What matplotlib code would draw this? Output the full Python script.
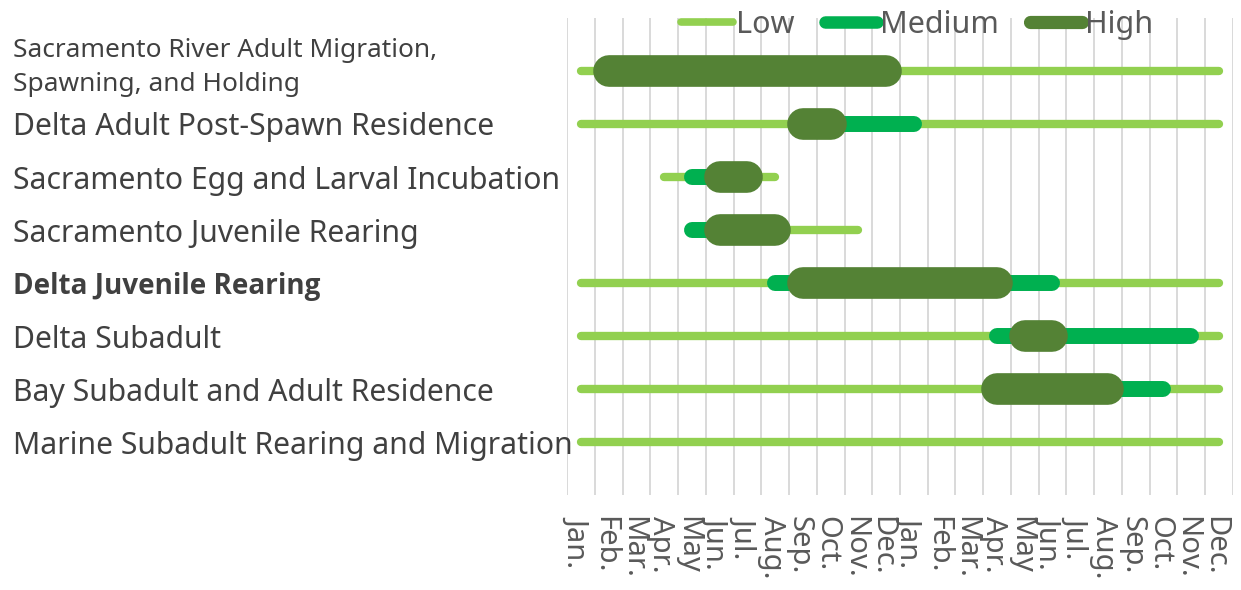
import matplotlib
matplotlib.use("Agg")
import matplotlib.pyplot as plt
import matplotlib.transforms as mtransforms
from matplotlib.lines import Line2D

plt.rcParams['font.family'] = ['Noto Sans', 'DejaVu Sans']

# life stages, top to bottom
stages = [
    "Sacramento River Adult Migration,\nSpawning, and Holding",
    "Delta Adult Post-Spawn Residence",
    "Sacramento Egg and Larval Incubation",
    "Sacramento Juvenile Rearing",
    "Delta Juvenile Rearing",
    "Delta Subadult",
    "Bay Subadult and Adult Residence",
    "Marine Subadult Rearing and Migration",
]
months = ["Jan.", "Feb.", "Mar.", "Apr.", "May", "Jun.", "Jul.", "Aug.",
          "Sep.", "Oct.", "Nov.", "Dec."] * 2

# month index (0 = Jan. year 1, 23 = Dec. year 2); None = no period
low_start = [0, 0, 3, 4, 0, 0, 0, 0]
low_end = [23, 23, 7, 10, 23, 23, 23, 23]
med_start = [None, 8, 4, 4, 7, 15, 15, None]
med_end = [None, 12, 5, 5, 17, 22, 21, None]
high_start = [1, 8, 5, 5, 8, 16, 15, None]
high_end = [11, 9, 6, 7, 15, 17, 19, None]

c_low = "#92D050"
c_med = "#00B050"
c_high = "#548235"

fig = plt.figure(figsize=(12.41, 5.90), dpi=100)
ax = fig.add_axes([0.4571, 0.161, 0.5362, 0.8085])

n = len(stages)
ypos = [n - i for i in range(n)]

for i, y in enumerate(ypos):
    ax.plot([low_start[i], low_end[i]], [y, y], color=c_low, lw=6,
            solid_capstyle='round', zorder=3)
    if med_start[i] is not None:
        ax.plot([med_start[i], med_end[i]], [y, y], color=c_med, lw=11.5,
                solid_capstyle='round', zorder=4)
    if high_start[i] is not None:
        ax.plot([high_start[i], high_end[i]], [y, y], color=c_high, lw=22.8,
                solid_capstyle='round', zorder=5)

ax.set_xlim(-0.5, 23.5)
ax.set_ylim(0, 9)

# gridlines between months
for g in range(25):
    ax.axvline(g - 0.5, color="#D9D9D9", lw=1.4, zorder=1)

for s in ax.spines.values():
    s.set_visible(False)

ax.set_xticks(range(24))
ax.set_xticklabels(months, rotation=270, fontsize=21, color="#595959",
                   va='top', ha='center')
ax.tick_params(axis='x', length=0, pad=15)
off = mtransforms.ScaledTranslation(-4 / 100, 0, fig.dpi_scale_trans)
for lab in ax.get_xticklabels():
    lab.set_transform(lab.get_transform() + off)

ax.set_yticks(ypos)
ax.set_yticklabels(stages, fontsize=21.7, color="#404040", ha='left')
ax.tick_params(axis='y', length=0, pad=399)
ylabs = ax.get_yticklabels()
ylabs[0].set_fontsize(18.9)
ylabs[0].set_linespacing(1.5)
up = mtransforms.ScaledTranslation(0, 11 / 100, fig.dpi_scale_trans)
ylabs[0].set_transform(ylabs[0].get_transform() + up)
ylabs[4].set_family(['Open Sans', 'Noto Sans', 'DejaVu Sans'])
ylabs[4].set_fontweight('bold')
ylabs[4].set_fontsize(20.1)

handles = [
    Line2D([], [], color=c_low, lw=5.5, solid_capstyle='round'),
    Line2D([], [], color=c_med, lw=9, solid_capstyle='round'),
    Line2D([], [], color=c_high, lw=9.5, solid_capstyle='round'),
]
fig.legend(handles, ["Low", "Medium", "High"], loc='center',
           bbox_to_anchor=(0.739, 0.958), ncol=3, frameon=False,
           fontsize=22, labelcolor="#595959", handlelength=1.7,
           handletextpad=0.1, columnspacing=1.0)

fig.savefig("out.png", dpi=100)
